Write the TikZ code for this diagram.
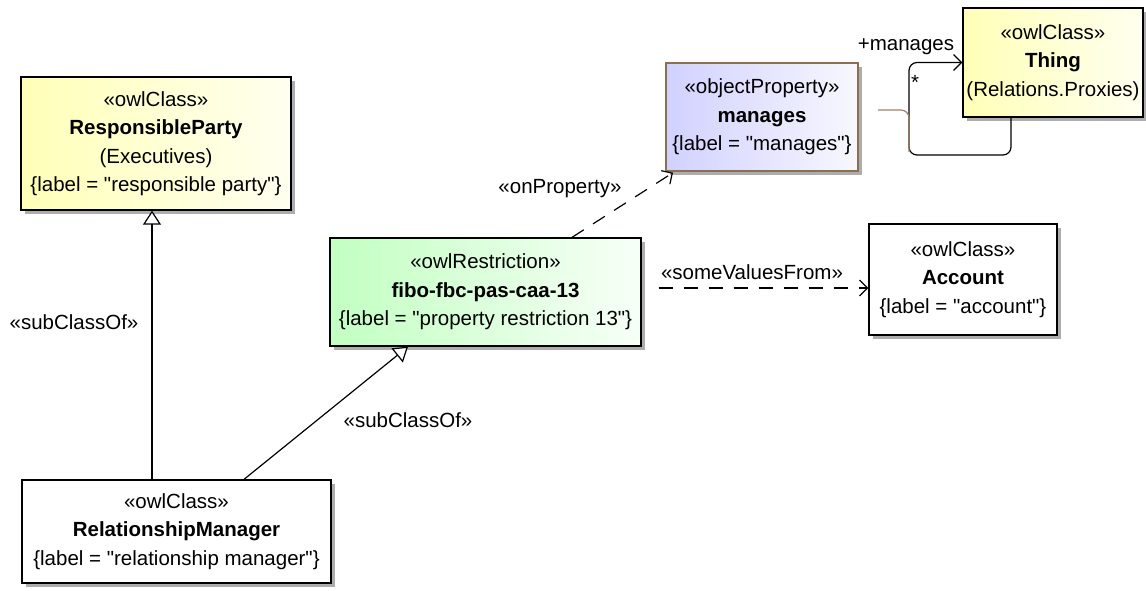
\documentclass[tikz,border=0pt]{standalone}
\usepackage{fontspec}
\setmainfont{Liberation Sans}[Ligatures=TeXOff]
\usetikzlibrary{arrows.meta,shadows,calc}
\definecolor{brn}{HTML}{8B6F4E}
\definecolor{brnline}{HTML}{A58066}
\tikzset{
  cls/.style={draw=black, line width=1.3pt, align=center, inner sep=0pt,
    font=\fontsize{20.5}{28.5}\selectfont,
    drop shadow={shadow xshift=4pt, shadow yshift=-4pt, fill=black!32, opacity=1}},
  yel/.style={left color=yellow!28, right color=yellow!6},
  grn/.style={left color=green!24, right color=green!3},
  lav/.style={left color=blue!18, right color=blue!3, draw=brn},
  wht/.style={fill=white},
  gen/.style={line width=1.2pt, -{Triangle[open, fill=white, length=14pt, width=18pt]}},
  dep/.style={line width=1.2pt, dash pattern=on 14pt off 11pt, -{Straight Barb[length=8pt, width=16pt]}},
  assoc/.style={line width=1.2pt, -{Straight Barb[length=8pt, width=16pt]}},
  lbl/.style={font=\fontsize{20.5}{24}\selectfont, inner sep=0pt}
}
\begin{document}
\begin{tikzpicture}[x=1pt,y=-1pt]
\useasboundingbox (0,0) rectangle (1146,591);
\fill[white] (0,0) rectangle (1146,591);

\node[cls, yel, minimum width=270pt, minimum height=133pt] (RP) at (156,143.5)
  {«owlClass»\\ \textbf{ResponsibleParty}\\ (Executives)\\ \{label = "responsible party"\}};
\node[cls, wht, minimum width=309pt, minimum height=103pt] (RM) at (176.5,531.5)
  {«owlClass»\\ \textbf{RelationshipManager}\\ \{label = "relationship manager"\}};
\node[cls, grn, minimum width=311pt, minimum height=108pt] (R) at (485.5,292)
  {«owlRestriction»\\ \textbf{fibo-fbc-pas-caa-13}\\ \{label = "property restriction 13"\}};
\node[cls, lav, minimum width=192pt, minimum height=108pt] (M) at (762,117)
  {«objectProperty»\\ \textbf{manages}\\ \{label = "manages"\}};
\node[cls, yel, minimum width=180pt, minimum height=109pt] (T) at (1053,62.5)
  {«owlClass»\\ \textbf{Thing}\\ (Relations.Proxies)};
\node[cls, wht, minimum width=188pt, minimum height=111pt] (A) at (963,279.5)
  {«owlClass»\\ \textbf{Account}\\ \{label = "account"\}};

% generalizations
\draw[gen] ([xshift=-24.5pt]RM.north) -- ([xshift=-4pt]RP.south);
\draw[gen] ([xshift=67.5pt]RM.north) -- ([xshift=-77.5pt]R.south);
\node[lbl] (l1) at (74,322) {«subClassOf»};
\node[lbl] (l2) at (408,420) {«subClassOf»};

% onProperty
\draw[dep] ([xshift=86.5pt]R.north) -- ([xshift=-89pt,yshift=-1pt]M.south);
\node[lbl] (l3) at (560,189) {«onProperty»};

% someValuesFrom
\coordinate (sv) at ([xshift=17pt,yshift=4pt]R.east);
\draw[dep] (sv) -- (sv -| A.west);
\node[lbl] (l4) at (752,272) {«someValuesFrom»};

% self association on Thing
\coordinate (lp) at (909,155);
\draw[assoc, rounded corners=8pt] ([xshift=-42pt]T.south) |- (lp) |- (T.west);
\node[lbl] (l5) at (906,47) {+manages};
\node[lbl] (l6) at (915,82) {*};

% association class link
\coordinate (bs) at (878,110);
\coordinate (be) at (909,152);
\draw[brnline, line width=1.2pt, rounded corners=8pt] (bs) -| (be);
\end{tikzpicture}
\end{document}
